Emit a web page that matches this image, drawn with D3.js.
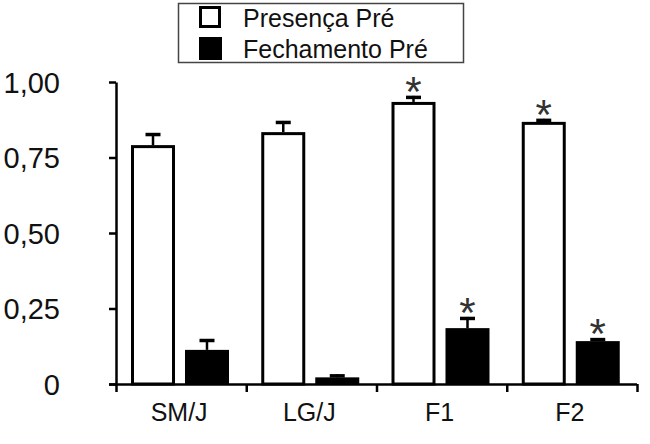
<!DOCTYPE html>
<html>
<head>
<meta charset="utf-8">
<script src="https://cdn.jsdelivr.net/npm/d3@7/dist/d3.min.js"></script>
<style>
  html, body { margin: 0; padding: 0; background: #fff; }
  svg { display: block; }
  text { font-family: "Liberation Sans", Arial, sans-serif; fill: #111; }
</style>
</head>
<body>
<svg id="chart" width="650" height="444"></svg>
<script>
const categories = ["SM/J", "LG/J", "F1", "F2"];
const seriesNames = ["Presença Pré", "Fechamento Pré"];
const presencaPre = [0.791, 0.834, 0.934, 0.868];
const presencaPreErr = [0.040, 0.037, 0.020, 0.010];
const fechamentoPre = [0.113, 0.022, 0.185, 0.142];
const fechamentoPreErr = [0.036, 0.010, 0.037, 0.010];
const presencaSig = [false, false, true, true];
const fechamentoSig = [false, false, true, true];
const yTickValues = [0, 0.25, 0.5, 0.75, 1.0];
const yTickLabels = ["0", "0,25", "0,50", "0,75", "1,00"];

const svg = d3.select("#chart");

const x = d3.scaleBand().domain(categories).range([116, 637]).paddingInner(0).paddingOuter(0);
const xSub = d3.scaleBand().domain(seriesNames).range([15, 113]).paddingInner(0.185).paddingOuter(0);
const y = d3.scaleLinear().domain([0, 1]).range([384, 82]);

const data = [];
categories.forEach((c, i) => {
  data.push({cat: c, series: seriesNames[0], v: presencaPre[i], e: presencaPreErr[i], sig: presencaSig[i]});
  data.push({cat: c, series: seriesNames[1], v: fechamentoPre[i], e: fechamentoPreErr[i], sig: fechamentoSig[i]});
});

// Bars
const bw = xSub.bandwidth();
data.forEach(d => {
  const x0 = x(d.cat) + xSub(d.series);
  if (d.series === seriesNames[0]) {
    svg.append("rect")
      .attr("x", x0 + 1.5).attr("y", y(d.v) + 1.5)
      .attr("width", bw - 3).attr("height", y(0) - y(d.v) - 1.5)
      .attr("fill", "#fff").attr("stroke", "#000").attr("stroke-width", 3);
  } else {
    svg.append("rect")
      .attr("x", x0).attr("y", y(d.v))
      .attr("width", bw).attr("height", y(0) - y(d.v))
      .attr("fill", "#000");
  }
  // error bar
  const cx = x0 + bw / 2;
  svg.append("line")
    .attr("x1", cx).attr("x2", cx)
    .attr("y1", y(d.v)).attr("y2", y(d.v + d.e))
    .attr("stroke", "#000").attr("stroke-width", 2.5);
  svg.append("line")
    .attr("x1", cx - 7.5).attr("x2", cx + 7.5)
    .attr("y1", y(d.v + d.e) + 1.5).attr("y2", y(d.v + d.e) + 1.5)
    .attr("stroke", "#000").attr("stroke-width", 3.5);
  if (d.sig) {
    svg.append("text")
      .attr("x", cx).attr("y", y(d.v + d.e) - 13 + 23)
      .attr("text-anchor", "middle")
      .style("font-size", "42px")
      .style("fill", "#333")
      .text("*");
  }
});

// Y axis
const yAxis = d3.axisLeft(y).tickValues(yTickValues).tickFormat((d, i) => yTickLabels[i]).tickSize(7).tickSizeOuter(0);
const gy = svg.append("g").attr("transform", "translate(116,0)").call(yAxis);
gy.select(".domain").attr("stroke", "#000").attr("stroke-width", 2.5);
gy.selectAll(".tick line").attr("stroke", "#000").attr("stroke-width", 2.5);
gy.selectAll(".tick text")
  .attr("x", -56).attr("dy", "0.36em")
  .style("font-size", "29px")
  .style("font-family", "'Liberation Sans', Arial, sans-serif")
  .attr("fill", "#111");

// X axis
const xTickPositions = categories.map(c => x(c)).concat([x.range()[1]]);
const xAxisScale = d3.scaleLinear().domain([116, 637]).range([116, 637]);
const xAxis = d3.axisBottom(xAxisScale).tickValues(xTickPositions).tickFormat("").tickSize(8).tickSizeOuter(0);
const gx = svg.append("g").attr("transform", "translate(0,384)").call(xAxis);
gx.select(".domain").attr("stroke", "#000").attr("stroke-width", 2.5).attr("d", "M109,0.5H637");
gx.selectAll(".tick line").attr("stroke", "#000").attr("stroke-width", 2.5);

// Category labels
svg.selectAll(".catlabel").data(categories).enter().append("text")
  .attr("x", d => x(d) + x.bandwidth() / 2 - 2)
  .attr("y", 421)
  .attr("text-anchor", "middle")
  .style("font-size", "25px")
  .text(d => d);

// Legend
const lg = svg.append("g");
lg.append("rect").attr("x", 178.5).attr("y", 3.5).attr("width", 285).attr("height", 59)
  .attr("fill", "#fff").attr("stroke", "#444").attr("stroke-width", 1.5);
lg.append("rect").attr("x", 200.5).attr("y", 7.5).attr("width", 19).attr("height", 19)
  .attr("fill", "#fff").attr("stroke", "#000").attr("stroke-width", 3);
lg.append("rect").attr("x", 199).attr("y", 37).attr("width", 23).attr("height", 23)
  .attr("fill", "#000");
lg.append("text").attr("x", 243).attr("y", 27).style("font-size", "25px").text(seriesNames[0]);
lg.append("text").attr("x", 243).attr("y", 58).style("font-size", "25px").text(seriesNames[1]);
</script>
</body>
</html>
